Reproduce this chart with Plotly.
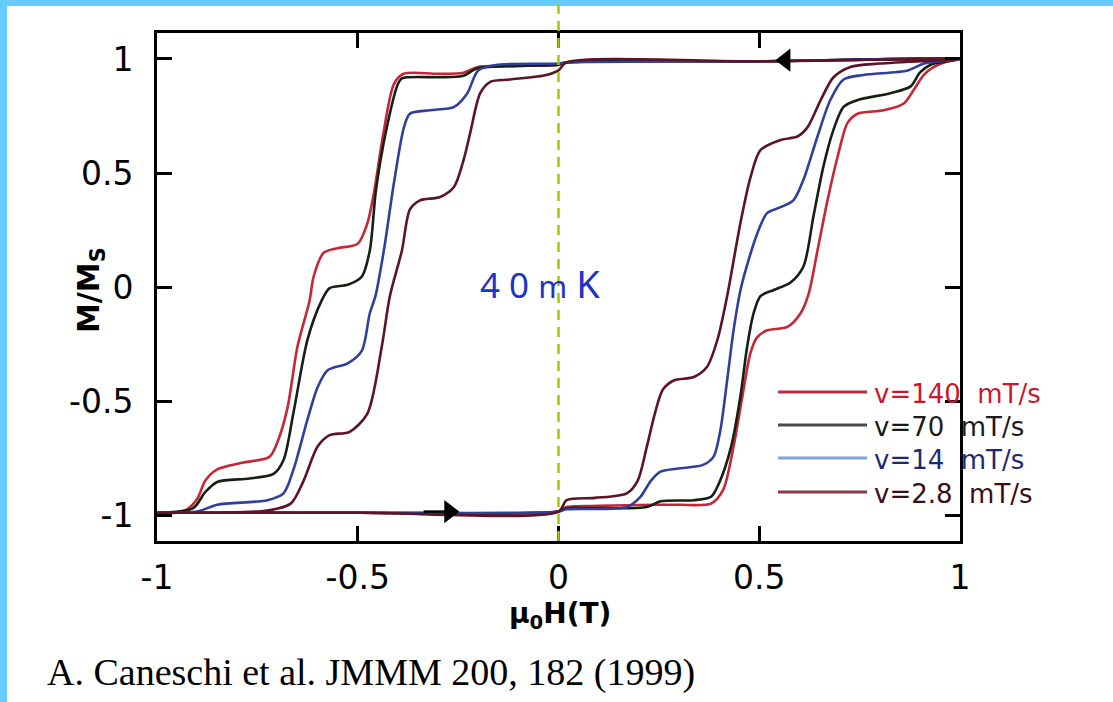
import plotly.graph_objects as go

# ---------------- data ----------------
series_names = ["v=140\u00a0\u00a0mT/s", "v=70\u00a0\u00a0mT/s", "v=14\u00a0\u00a0mT/s", "v=2.8\u00a0\u00a0mT/s"]

# v = 140 mT/s
H_desc_140 = [1.0, 0.5, 0.02, 0.0, -0.1, -0.2, -0.237, -0.3, -0.386, -0.41, -0.436, -0.46, -0.476, -0.5, -0.55, -0.585, -0.61, -0.62, -0.65, -0.675, -0.7, -0.72, -0.785, -0.85, -0.88, -0.9, -0.93, -1.0]
M_desc_140 = [1.0, 0.99, 0.985, 0.975, 0.97, 0.965, 0.94, 0.935, 0.935, 0.89, 0.675, 0.41, 0.28, 0.19, 0.17, 0.15, 0.045, -0.06, -0.26, -0.53, -0.68, -0.745, -0.77, -0.8, -0.85, -0.93, -0.98, -0.99]
H_asc_140 = [-1.0, -0.5, 0.0, 0.02, 0.1, 0.237, 0.3, 0.38, 0.41, 0.436, 0.458, 0.478, 0.495, 0.52, 0.57, 0.603, 0.623, 0.645, 0.67, 0.695, 0.72, 0.745, 0.81, 0.86, 0.885, 0.91, 0.935, 0.97, 1.0]
M_asc_140 = [-0.99, -0.99, -0.985, -0.965, -0.96, -0.955, -0.955, -0.95, -0.89, -0.7, -0.48, -0.29, -0.22, -0.19, -0.175, -0.115, -0.03, 0.16, 0.38, 0.57, 0.72, 0.76, 0.775, 0.805, 0.865, 0.93, 0.965, 0.99, 1.0]

# v = 70 mT/s
H_desc_70 = [1.0, 0.5, 0.02, 0.0, -0.1, -0.2, -0.24, -0.3, -0.39, -0.4, -0.43, -0.455, -0.47, -0.49, -0.525, -0.57, -0.59, -0.625, -0.66, -0.685, -0.71, -0.77, -0.85, -0.88, -0.91, -1.0]
M_desc_70 = [1.0, 0.99, 0.985, 0.975, 0.97, 0.96, 0.925, 0.92, 0.915, 0.89, 0.68, 0.42, 0.16, 0.045, 0.01, -0.005, -0.06, -0.23, -0.55, -0.76, -0.82, -0.84, -0.855, -0.9, -0.97, -0.99]
H_asc_70 = [-1.0, -0.5, 0.0, 0.02, 0.1, 0.22, 0.254, 0.337, 0.38, 0.4, 0.43, 0.453, 0.47, 0.486, 0.503, 0.536, 0.578, 0.61, 0.635, 0.66, 0.685, 0.71, 0.745, 0.827, 0.877, 0.9, 0.927, 0.97, 1.0]
M_asc_70 = [-0.99, -0.99, -0.985, -0.97, -0.97, -0.965, -0.94, -0.935, -0.92, -0.86, -0.7, -0.48, -0.26, -0.115, -0.04, -0.013, 0.02, 0.09, 0.31, 0.53, 0.69, 0.79, 0.82, 0.85, 0.88, 0.94, 0.975, 0.99, 1.0]

# v = 14 mT/s
H_desc_14 = [1.0, 0.5, 0.02, 0.0, -0.15, -0.2, -0.227, -0.26, -0.32, -0.37, -0.385, -0.41, -0.435, -0.456, -0.47, -0.49, -0.525, -0.575, -0.6, -0.625, -0.66, -0.685, -0.725, -0.85, -0.9, -1.0]
M_desc_14 = [1.0, 0.99, 0.985, 0.98, 0.975, 0.95, 0.85, 0.79, 0.775, 0.76, 0.7, 0.455, 0.16, -0.04, -0.115, -0.28, -0.335, -0.365, -0.44, -0.58, -0.8, -0.905, -0.935, -0.955, -0.985, -0.99]
H_asc_14 = [-1.0, -0.5, 0.0, 0.02, 0.17, 0.204, 0.23, 0.254, 0.304, 0.36, 0.386, 0.403, 0.42, 0.436, 0.455, 0.495, 0.52, 0.553, 0.585, 0.61, 0.645, 0.677, 0.71, 0.76, 0.87, 0.91, 1.0]
M_asc_14 = [-0.99, -0.99, -0.985, -0.975, -0.965, -0.92, -0.85, -0.81, -0.795, -0.78, -0.745, -0.63, -0.41, -0.19, 0.0, 0.235, 0.325, 0.35, 0.38, 0.47, 0.66, 0.82, 0.91, 0.93, 0.95, 0.98, 1.0]

# v = 2.8 mT/s
H_desc_2p8 = [1.0, 0.5, 0.02, 0.0, -0.03, -0.12, -0.17, -0.195, -0.22, -0.236, -0.26, -0.295, -0.345, -0.37, -0.39, -0.42, -0.44, -0.476, -0.52, -0.57, -0.6, -0.635, -0.667, -0.725, -1.0]
M_desc_2p8 = [1.0, 0.99, 0.985, 0.95, 0.93, 0.91, 0.9, 0.85, 0.675, 0.56, 0.44, 0.395, 0.38, 0.34, 0.16, -0.04, -0.26, -0.555, -0.635, -0.65, -0.7, -0.85, -0.95, -0.98, -0.99]
H_asc_2p8 = [-1.0, -0.5, 0.0, 0.02, 0.09, 0.17, 0.197, 0.22, 0.24, 0.26, 0.287, 0.337, 0.37, 0.396, 0.42, 0.453, 0.478, 0.503, 0.553, 0.595, 0.62, 0.653, 0.685, 0.727, 0.8, 1.0]
M_asc_2p8 = [-0.99, -0.99, -0.985, -0.935, -0.925, -0.905, -0.85, -0.7, -0.555, -0.45, -0.41, -0.395, -0.35, -0.23, -0.04, 0.28, 0.48, 0.6, 0.645, 0.66, 0.7, 0.82, 0.92, 0.965, 0.98, 1.0]

# sweep-direction arrows (field, magnetization)
arrow_down_H = [0.565]      # arrow on the descending branch (pointing left)
arrow_down_M = [0.995]
arrow_up_shaft_H = [-0.336, -0.28]   # arrow on the ascending branch (pointing right)
arrow_up_shaft_M = [-0.985, -0.985]
arrow_up_H = [-0.272]
arrow_up_M = [-0.985]

x_tick_vals = [-1, -0.5, 0, 0.5, 1]
x_tick_text = ["-1", "-0.5", "0", "0.5", "1"]
y_tick_vals = [-1, -0.5, 0, 0.5, 1]
y_tick_text = ["-1", "-0.5", "0", "0.5", "1"]

# ---------------- styling ----------------
curve_colors = ["#c42838", "#142014", "#30409a", "#5c1424"]
legend_line_colors = ["#b8303f", "#4a4a4a", "#80a4d8", "#8c3848"]
legend_text_colors = ["#c8182e", "#1a1a1a", "#1e2a70", "#3c0c16"]

branches = [
    (H_desc_140, M_desc_140, H_asc_140, M_asc_140),
    (H_desc_70, M_desc_70, H_asc_70, M_asc_70),
    (H_desc_14, M_desc_14, H_asc_14, M_asc_14),
    (H_desc_2p8, M_desc_2p8, H_asc_2p8, M_asc_2p8),
]

fig = go.Figure()
for name, col, (hd, md, ha, ma) in zip(series_names, curve_colors, branches):
    fig.add_trace(go.Scatter(
        x=list(hd) + list(ha), y=list(md) + list(ma),
        mode="lines", name=name,
        line=dict(color=col, width=2.6, shape="spline", smoothing=0.8),
        showlegend=False,
    ))

# arrows
fig.add_trace(go.Scatter(x=arrow_up_shaft_H, y=arrow_up_shaft_M, mode="lines",
                         line=dict(color="black", width=2.5), showlegend=False, hoverinfo="skip"))
fig.add_trace(go.Scatter(x=arrow_up_H, y=arrow_up_M, mode="markers",
                         marker=dict(symbol="triangle-right", size=20, color="black"),
                         showlegend=False, hoverinfo="skip"))
fig.add_trace(go.Scatter(x=arrow_down_H, y=arrow_down_M, mode="markers",
                         marker=dict(symbol="triangle-left", size=20, color="black"),
                         showlegend=False, hoverinfo="skip"))

W, H = 1113, 702
L, R, T, B = 157, 960, 33, 541
pw, ph = R - L, B - T


def px(xp):
    return (xp - L) / pw


def py(yp):
    return (B - yp) / ph


shapes = []
# light blue page border (top and left)
shapes.append(dict(type="rect", xref="paper", yref="paper", x0=px(0), x1=px(7), y0=py(H), y1=py(0),
                   fillcolor="#66ccff", line=dict(width=0), layer="above"))
shapes.append(dict(type="rect", xref="paper", yref="paper", x0=px(0), x1=px(W), y0=py(6), y1=py(0),
                   fillcolor="#66ccff", line=dict(width=0), layer="above"))
# green dashed vertical line at H = 0
shapes.append(dict(type="line", xref="x", yref="paper", x0=0, x1=0, y0=0, y1=py(0),
                   line=dict(color="#a2c800", width=2.5, dash="10px,7px"), layer="above"))

annotations = []
# manual legend
leg_y = [392, 425, 458, 492]
for i, name in enumerate(series_names):
    shapes.append(dict(type="line", xref="paper", yref="paper", x0=px(778), x1=px(867),
                       y0=py(leg_y[i]), y1=py(leg_y[i]),
                       line=dict(color=legend_line_colors[i], width=3)))
    annotations.append(dict(xref="paper", yref="paper", x=px(872), y=py(leg_y[i] + 2),
                            xanchor="left", yanchor="middle", showarrow=False, text=name,
                            font=dict(family="DejaVu Sans", size=26, color=legend_text_colors[i])))

# handwritten temperature label
annotations.append(dict(xref="paper", yref="paper", x=px(540), y=py(283), xanchor="center", yanchor="middle",
                        showarrow=False,
                        text="4 0 <span style='font-size:31px'>m</span> <span style='font-size:38px'>K</span>",
                        font=dict(family="Noto Sans", size=35, color="#1c34c4")))

# axis titles
annotations.append(dict(xref="paper", yref="paper", x=px(90), y=py(290), xanchor="center", yanchor="middle",
                        showarrow=False, textangle=-90, text="<b>M/M<sub>S</sub></b>",
                        font=dict(family="DejaVu Sans", size=30, color="black")))
annotations.append(dict(xref="paper", yref="paper", x=px(560), y=py(615), xanchor="center", yanchor="middle",
                        showarrow=False, text="<b>μ<sub>0</sub>H(T)</b>",
                        font=dict(family="DejaVu Sans", size=28, color="black")))

# citation
annotations.append(dict(xref="paper", yref="paper", x=px(45), y=py(672), xanchor="left", yanchor="middle",
                        showarrow=False, text="A. Caneschi et al. JMMM 200, 182 (1999)",
                        font=dict(family="Liberation Serif", size=38, color="black")))

axis_common = dict(
    ticks="inside", ticklen=15, tickwidth=3, tickcolor="black",
    showline=True, linewidth=3, linecolor="black", mirror="ticks",
    showgrid=False, zeroline=False,
    tickfont=dict(family="DejaVu Sans", size=33, color="black"),
)

fig.update_layout(
    width=W, height=H,
    margin=dict(l=L, r=W - R, t=T, b=H - B),
    paper_bgcolor="white", plot_bgcolor="white",
    showlegend=False,
    shapes=shapes, annotations=annotations,
    xaxis=dict(range=[-1, 1], tickmode="array", tickvals=x_tick_vals, ticktext=x_tick_text,
               ticklabelstandoff=5, **axis_common),
    yaxis=dict(range=[-1.114, 1.114], tickmode="array", tickvals=y_tick_vals, ticktext=y_tick_text,
               ticklabelstandoff=14, **axis_common),
)

fig.write_html("out.html", config={"displayModeBar": False},
               post_script="document.body.style.margin='0px';document.body.style.padding='0px';")
